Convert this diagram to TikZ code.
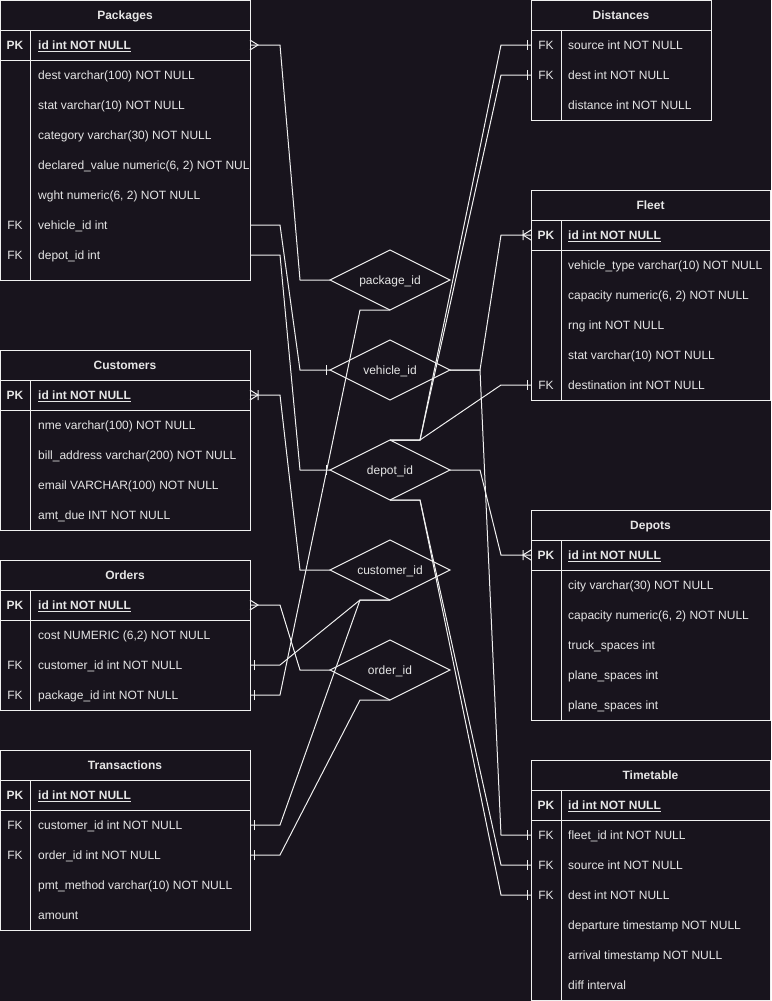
\documentclass[tikz,border=0pt]{standalone}
\usepackage{fontspec}
\setmainfont{Liberation Sans}
\usetikzlibrary{shapes.geometric,decorations.markings}
\definecolor{bg}{HTML}{18141D}
\definecolor{ink}{HTML}{F0F0F0}
\definecolor{txt}{HTML}{E6E6E6}
\newcommand{\erfont}{\fontsize{12}{14}\selectfont}
\tikzstyle{frame}=[draw=ink,line width=1pt,rectangle,anchor=north west,inner sep=0pt,outer sep=0pt]
\tikzstyle{ttl}=[text=txt,font=\erfont\bfseries,inner sep=0pt,text height=9pt,text depth=0pt]
\tikzstyle{fk}=[text=txt,font=\erfont,inner sep=0pt,text height=9pt,text depth=0pt]
\tikzstyle{fld}=[fk,anchor=west]
\tikzstyle{pkfld}=[ttl,anchor=west]
\tikzstyle{rel}=[diamond,draw=ink,line width=1pt,aspect=2,minimum width=120,minimum height=60,inner sep=0pt,outer sep=0pt,text=txt,font=\erfont,text height=9pt,text depth=0pt]
\tikzstyle{rln}=[draw=ink,line width=1pt]
\tikzstyle{onesrc}=[postaction={decorate,decoration={markings,mark=at position 4pt with {\draw[ink,line width=1pt] (0pt,-5pt) -- (0pt,5pt);}}}]
\tikzstyle{onedst}=[postaction={decorate,decoration={markings,mark=at position -4pt with {\draw[ink,line width=1pt] (0pt,-5pt) -- (0pt,5pt);}}}]
\tikzstyle{manysrc}=[postaction={decorate,decoration={markings,mark=at position 0pt with {\draw[ink,line width=1pt] (0pt,5pt) -- (8pt,0pt) -- (0pt,-5pt);}}}]
\tikzstyle{onemanysrc}=[postaction={decorate,decoration={markings,mark=at position 0pt with {\draw[ink,line width=1pt] (0pt,5pt) -- (8pt,0pt) -- (0pt,-5pt) (8pt,-5pt) -- (8pt,5pt);}}}]

\begin{document}
\begin{tikzpicture}[x=1pt,y=-1pt]
\path[use as bounding box,fill=bg] (0,0) rectangle (771,1001);

\node[frame,minimum width=250,minimum height=280] (pkg) at (0,0) {};
\draw[rln] (0,30) -- (250,30) (0,60) -- (250,60) (30,30) -- (30,280);
\node[ttl] (pkg-t) at (125,15) {Packages};
\node[ttl] at (15,45) {PK}; \node[pkfld] (pkg-id) at (38,45) {\underline{id int NOT NULL}};
\node[fld] (pkg-dest) at (38,75) {dest varchar(100) NOT NULL};
\node[fld] (pkg-stat) at (38,105) {stat varchar(10) NOT NULL};
\node[fld] (pkg-cat) at (38,135) {category varchar(30) NOT NULL};
\begin{scope}
\clip (0,60) rectangle (249,280);
\node[fld] (pkg-val) at (38,165) {declared\_value numeric(6, 2) NOT NULL};
\end{scope}
\node[fld] (pkg-wght) at (38,195) {wght numeric(6, 2) NOT NULL};
\node[fk] at (15,225) {FK}; \node[fld] (pkg-vid) at (38,225) {vehicle\_id int};
\node[fk] at (15,255) {FK}; \node[fld] (pkg-did) at (38,255) {depot\_id int};

\node[frame,minimum width=250,minimum height=180] (cus) at (0,350) {};
\draw[rln] (0,380) -- (250,380) (0,410) -- (250,410) (30,380) -- (30,530);
\node[ttl] (cus-t) at (125,365) {Customers};
\node[ttl] at (15,395) {PK}; \node[pkfld] (cus-id) at (38,395) {\underline{id int NOT NULL}};
\node[fld] (cus-nme) at (38,425) {nme varchar(100) NOT NULL};
\node[fld] (cus-bill) at (38,455) {bill\_address varchar(200) NOT NULL};
\node[fld] (cus-mail) at (38,485) {email VARCHAR(100) NOT NULL};
\node[fld] (cus-due) at (38,515) {amt\_due INT NOT NULL};

\node[frame,minimum width=250,minimum height=150] (ord) at (0,560) {};
\draw[rln] (0,590) -- (250,590) (0,620) -- (250,620) (30,590) -- (30,710);
\node[ttl] (ord-t) at (125,575) {Orders};
\node[ttl] at (15,605) {PK}; \node[pkfld] (ord-id) at (38,605) {\underline{id int NOT NULL}};
\node[fld] (ord-cost) at (38,635) {cost NUMERIC (6,2) NOT NULL};
\node[fk] at (15,665) {FK}; \node[fld] (ord-cid) at (38,665) {customer\_id int NOT NULL};
\node[fk] at (15,695) {FK}; \node[fld] (ord-pid) at (38,695) {package\_id int NOT NULL};

\node[frame,minimum width=250,minimum height=180] (trn) at (0,750) {};
\draw[rln] (0,780) -- (250,780) (0,810) -- (250,810) (30,780) -- (30,930);
\node[ttl] (trn-t) at (125,765) {Transactions};
\node[ttl] at (15,795) {PK}; \node[pkfld] (trn-id) at (38,795) {\underline{id int NOT NULL}};
\node[fk] at (15,825) {FK}; \node[fld] (trn-cid) at (38,825) {customer\_id int NOT NULL};
\node[fk] at (15,855) {FK}; \node[fld] (trn-oid) at (38,855) {order\_id int NOT NULL};
\node[fld] (trn-pmt) at (38,885) {pmt\_method varchar(10) NOT NULL};
\node[fld] (trn-amt) at (38,915) {amount};

\node[frame,minimum width=180,minimum height=120] (dst) at (531,0) {};
\draw[rln] (531,30) -- (711,30) (561,30) -- (561,120);
\node[ttl] (dst-t) at (621,15) {Distances};
\node[fk] at (546,45) {FK}; \node[fld] (dst-src) at (568,45) {source int NOT NULL};
\node[fk] at (546,75) {FK}; \node[fld] (dst-dest) at (568,75) {dest int NOT NULL};
\node[fld] (dst-dist) at (568,105) {distance int NOT NULL};

\node[frame,minimum width=239,minimum height=210] (flt) at (531,190) {};
\draw[rln] (531,220) -- (770,220) (531,250) -- (770,250) (561,220) -- (561,400);
\node[ttl] (flt-t) at (650.5,205) {Fleet};
\node[ttl] at (546,235) {PK}; \node[pkfld] (flt-id) at (568,235) {\underline{id int NOT NULL}};
\node[fld] (flt-type) at (568,265) {vehicle\_type varchar(10) NOT NULL};
\node[fld] (flt-cap) at (568,295) {capacity numeric(6, 2) NOT NULL};
\node[fld] (flt-rng) at (568,325) {rng int NOT NULL};
\node[fld] (flt-stat) at (568,355) {stat varchar(10) NOT NULL};
\node[fk] at (546,385) {FK}; \node[fld] (flt-dest) at (568,385) {destination int NOT NULL};

\node[frame,minimum width=239,minimum height=210] (dep) at (531,510) {};
\draw[rln] (531,540) -- (770,540) (531,570) -- (770,570) (561,540) -- (561,720);
\node[ttl] (dep-t) at (650.5,525) {Depots};
\node[ttl] at (546,555) {PK}; \node[pkfld] (dep-id) at (568,555) {\underline{id int NOT NULL}};
\node[fld] (dep-city) at (568,585) {city varchar(30) NOT NULL};
\node[fld] (dep-cap) at (568,615) {capacity numeric(6, 2) NOT NULL};
\node[fld] (dep-trk) at (568,645) {truck\_spaces int};
\node[fld] (dep-pl1) at (568,675) {plane\_spaces int};
\node[fld] (dep-pl2) at (568,705) {plane\_spaces int};

\node[frame,minimum width=239,minimum height=240] (tt) at (531,760) {};
\draw[rln] (531,790) -- (770,790) (531,820) -- (770,820) (561,790) -- (561,1000);
\node[ttl] (tt-t) at (650.5,775) {Timetable};
\node[ttl] at (546,805) {PK}; \node[pkfld] (tt-id) at (568,805) {\underline{id int NOT NULL}};
\node[fk] at (546,835) {FK}; \node[fld] (tt-fid) at (568,835) {fleet\_id int NOT NULL};
\node[fk] at (546,865) {FK}; \node[fld] (tt-src) at (568,865) {source int NOT NULL};
\node[fk] at (546,895) {FK}; \node[fld] (tt-dest) at (568,895) {dest int NOT NULL};
\node[fld] (tt-dep) at (568,925) {departure timestamp NOT NULL};
\node[fld] (tt-arr) at (568,955) {arrival timestamp NOT NULL};
\node[fld] (tt-diff) at (568,985) {diff interval};

\node[rel] (pid) at (390,280) {package\_id};
\node[rel] (vid) at (390,370) {vehicle\_id};
\node[rel] (did) at (390,470) {depot\_id};
\node[rel] (cid) at (390,570) {customer\_id};
\node[rel] (oid) at (390,670) {order\_id};

\draw[rln,manysrc] (pkg.east |- pkg-id) -- ++(30,0) -- ([xshift=-30pt]pid.west) -- (pid.west);
\draw[rln,onedst] (pkg.east |- pkg-vid) -- ++(30,0) -- ([xshift=-30pt]vid.west) -- (vid.west);
\draw[rln,onedst] (pkg.east |- pkg-did) -- ++(30,0) -- ([xshift=-30pt]did.west) -- (did.west);
\draw[rln,onemanysrc] (cus.east |- cus-id) -- ++(30,0) -- ([xshift=-30pt]cid.west) -- (cid.west);
\draw[rln,manysrc] (ord.east |- ord-id) -- ++(30,0) -- ([xshift=-30pt]oid.west) -- (oid.west);
\draw[rln,onesrc] (ord.east |- ord-cid) -- ++(30,0) -- ([xshift=-30pt]cid.south) -- (cid.south);
\draw[rln,onesrc] (ord.east |- ord-pid) -- ++(30,0) -- ([xshift=-30pt]pid.south) -- (pid.south);
\draw[rln,onesrc] (trn.east |- trn-cid) -- ++(30,0) -- ([xshift=-30pt]cid.south) -- (cid.south);
\draw[rln,onesrc] (trn.east |- trn-oid) -- ++(30,0) -- ([xshift=-30pt]oid.south) -- (oid.south);

\draw[rln,onesrc] (dst.west |- dst-src) -- ++(-30,0) -- ([xshift=30pt]did.north) -- (did.north);
\draw[rln,onesrc] (dst.west |- dst-dest) -- ++(-30,0) -- ([xshift=30pt]did.north) -- (did.north);
\draw[rln,onemanysrc] (flt.west |- flt-id) -- ++(-30,0) -- ([xshift=30pt]vid.east) -- (vid.east);
\draw[rln,onesrc] (flt.west |- flt-dest) -- ++(-30,0) -- ([xshift=30pt]did.north) -- (did.north);
\draw[rln,onemanysrc] (dep.west |- dep-id) -- ++(-30,0) -- ([xshift=30pt]did.east) -- (did.east);
\draw[rln,onesrc] (tt.west |- tt-fid) -- ++(-30,0) -- ([xshift=30pt]vid.east) -- (vid.east);
\draw[rln,onesrc] (tt.west |- tt-src) -- ++(-30,0) -- ([xshift=30pt]did.south) -- (did.south);
\draw[rln,onesrc] (tt.west |- tt-dest) -- ++(-30,0) -- ([xshift=30pt]did.south) -- (did.south);
\end{tikzpicture}
\end{document}
